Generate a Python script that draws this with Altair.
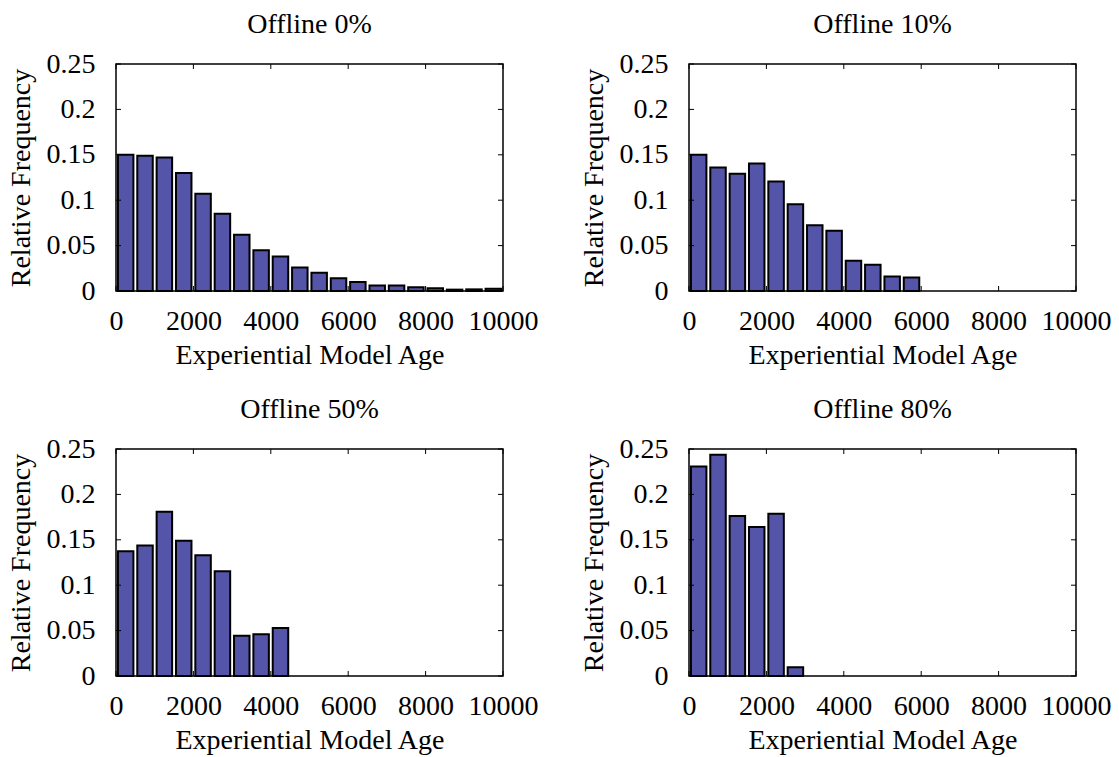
import altair as alt
import pandas as pd

# Relative frequency of experiential model age, binned in 500-step bins
BIN_WIDTH = 500
offline_0 = [0.150, 0.149, 0.147, 0.130, 0.107, 0.085, 0.062, 0.045, 0.038, 0.026,
             0.020, 0.014, 0.010, 0.006, 0.006, 0.004, 0.003, 0.0015, 0.0018, 0.0026]
offline_10 = [0.150, 0.136, 0.129, 0.1405, 0.1206, 0.0955, 0.0723, 0.0664, 0.0332,
              0.0288, 0.0159, 0.0148]
offline_50 = [0.1375, 0.1438, 0.181, 0.149, 0.133, 0.1154, 0.0442, 0.046, 0.053]
offline_80 = [0.2307, 0.2437, 0.1762, 0.164, 0.1788, 0.0095]

panel_titles = ["Offline 0%", "Offline 10%", "Offline 50%", "Offline 80%"]
x_ticks = [0, 2000, 4000, 6000, 8000, 10000]
y_ticks = [0, 0.05, 0.1, 0.15, 0.2, 0.25]

FONT = "Liberation Serif"
BAR_FILL = "#5454a8"
W, H = 387, 227
TICK = 5


def panel(title, freqs):
    df = pd.DataFrame({
        "lo": [i * BIN_WIDTH + 50 for i in range(len(freqs))],
        "hi": [i * BIN_WIDTH + 450 for i in range(len(freqs))],
        "freq": freqs,
    })
    xs = alt.Scale(domain=[0, 10000], nice=False, zero=False)
    ys = alt.Scale(domain=[0, 0.25], nice=False)
    x_axis = alt.Axis(values=x_ticks, format="d", title="Experiential Model Age")
    y_axis = alt.Axis(values=y_ticks, format="~g", title="Relative Frequency")

    bars = alt.Chart(df).mark_rect(
        fill=BAR_FILL, stroke="black", strokeWidth=2
    ).encode(
        x=alt.X("lo:Q", scale=xs, axis=x_axis),
        x2="hi:Q",
        y=alt.Y("freq:Q", scale=ys, axis=y_axis),
        y2=alt.datum(0),
    )

    # inward tick marks on all four sides of the frame
    xt = pd.DataFrame({"t": x_ticks})
    yt = pd.DataFrame({"t": y_ticks})
    rule = dict(color="black", strokeWidth=1)
    x_bottom = alt.Chart(xt).mark_rule(**rule).encode(
        x=alt.X("t:Q", scale=xs, axis=x_axis), y=alt.value(H), y2=alt.value(H - TICK))
    x_top = alt.Chart(xt).mark_rule(**rule).encode(
        x=alt.X("t:Q", scale=xs, axis=x_axis), y=alt.value(0), y2=alt.value(TICK))
    y_left = alt.Chart(yt).mark_rule(**rule).encode(
        y=alt.Y("t:Q", scale=ys, axis=y_axis), x=alt.value(0), x2=alt.value(TICK))
    y_right = alt.Chart(yt).mark_rule(**rule).encode(
        y=alt.Y("t:Q", scale=ys, axis=y_axis), x=alt.value(W), x2=alt.value(W - TICK))

    return alt.layer(bars, x_bottom, x_top, y_left, y_right).properties(
        width=W, height=H,
        title=alt.TitleParams(title, font=FONT, fontSize=28, fontWeight="normal",
                              color="black", frame="group", baseline="alphabetic",
                              offset=-11),
    )


panels = [panel(t, v) for t, v in
          zip(panel_titles, [offline_0, offline_10, offline_50, offline_80])]

chart = alt.concat(
    *panels, columns=2, spacing={"row": 158, "column": 186}, bounds="flush"
).properties(
    padding={"left": 6, "top": 10, "right": 5, "bottom": 5},
    background="white",
).configure_view(
    stroke="black", strokeWidth=1.5
).configure_axis(
    labelFont=FONT, labelFontSize=28, labelColor="black",
    titleFont=FONT, titleFontSize=28, titleFontWeight="normal", titleColor="black",
    domain=False, ticks=False, tickSize=0, grid=False, labelFlush=False,
    labelOverlap=False,
).configure_axisX(
    labelPadding=16, titlePadding=6
).configure_axisY(
    labelPadding=21, titlePadding=11
)

chart.save("out.html", embed_options={"renderer": "svg", "actions": False})
